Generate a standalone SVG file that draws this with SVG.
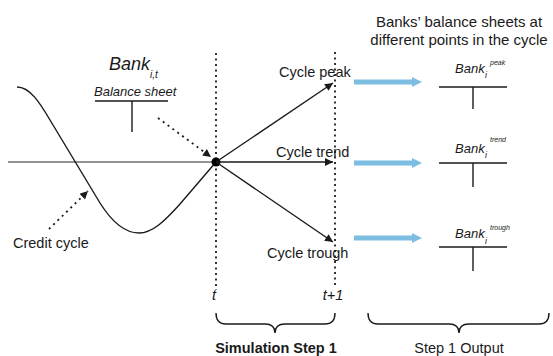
<svg xmlns="http://www.w3.org/2000/svg" width="553" height="356" viewBox="0 0 553 356">
<style>
text{font-family:"Liberation Sans",Arial,sans-serif;fill:#1a1a1a}
.lbl{font-size:14.5px}
.it{font-style:italic}
.ln{stroke:#1a1a1a;stroke-width:1.4;fill:none}
.dot{stroke:#333;stroke-width:2;stroke-dasharray:2 3.5;fill:none}
.darr{stroke:#1a1a1a;stroke-width:1.8;stroke-dasharray:2 4;fill:none}
.blue{stroke:#7dbde2;stroke-width:5;fill:none}
</style>
<defs>
<marker id="ah" viewBox="0 0 10 10" refX="10" refY="5" markerWidth="10" markerHeight="8" markerUnits="userSpaceOnUse" orient="auto"><path d="M0,0 L10,5 L0,10 z" fill="#1a1a1a"/></marker>
<marker id="bh" viewBox="0 0 10 10" refX="1" refY="5" markerWidth="10" markerHeight="12" markerUnits="userSpaceOnUse" orient="auto"><path d="M0,0 L10,5 L0,10 z" fill="#7dbde2"/></marker>
</defs>

<g id="axis">
<line x1="8" y1="162" x2="216" y2="162" stroke="#6e6e6e" stroke-width="1.4"/>
<line class="dot" x1="216" y1="53" x2="216" y2="290"/>
<line class="dot" x1="335" y1="52" x2="335" y2="285"/>
<text x="214" y="300" class="lbl it" text-anchor="middle">t</text>
<text x="333" y="300" class="lbl it" text-anchor="middle">t+1</text>
</g>

<g id="credit-cycle">
<path class="ln" d="M17,87 C30,87 40,103 50,120 L100,203 C112,222 125,233 139,233 C152,233 164,222 180,204 L216,162"/>
<text x="13" y="248" class="lbl">Credit cycle</text>
</g>

<g id="bank-it">
<text x="109" y="70" class="it" font-size="18">Bank</text>
<text x="150" y="78" class="it" font-size="10">i,t</text>
<text x="94" y="96" class="it" font-size="13">Balance sheet</text>
<line class="ln" x1="95" y1="101" x2="168" y2="101"/>
<line class="ln" x1="132" y1="101" x2="132" y2="132"/>
</g>

<g id="origin"><circle cx="216" cy="162" r="4.5" fill="#000"/></g>

<g id="cycle-peak"><text x="279" y="77" class="lbl">Cycle peak</text></g>
<g id="cycle-trend"><text x="276" y="157" class="lbl">Cycle trend</text></g>
<g id="cycle-trough"><text x="267" y="258" class="lbl">Cycle trough</text></g>

<g id="title">
<text x="459" y="27" font-size="15" text-anchor="middle">Banks’ balance sheets at</text>
<text x="459" y="45" font-size="15" text-anchor="middle">different points in the cycle</text>
</g>

<g id="bank-peak">
<text x="455" y="73" class="it" font-size="13">Bank</text>
<text x="485" y="78" class="it" font-size="9">i</text>
<text x="490" y="65" class="it" font-size="7">peak</text>
<line class="ln" x1="439" y1="87" x2="507" y2="87"/>
<line class="ln" x1="473" y1="87" x2="473" y2="109"/>
</g>
<g id="bank-trend">
<text x="455" y="153" class="it" font-size="13">Bank</text>
<text x="485" y="158" class="it" font-size="9">i</text>
<text x="490" y="142" class="it" font-size="7">trend</text>
<line class="ln" x1="439" y1="163" x2="507" y2="163"/>
<line class="ln" x1="473" y1="163" x2="473" y2="187"/>
</g>
<g id="bank-trough">
<text x="455" y="238" class="it" font-size="13">Bank</text>
<text x="485" y="244" class="it" font-size="9">i</text>
<text x="490" y="230" class="it" font-size="7">trough</text>
<line class="ln" x1="439" y1="247" x2="507" y2="247"/>
<line class="ln" x1="473" y1="247" x2="473" y2="271"/>
</g>

<g id="connectors">
<line class="ln" x1="216" y1="162" x2="333" y2="83" marker-end="url(#ah)"/>
<line class="ln" x1="216" y1="162" x2="333" y2="162" marker-end="url(#ah)"/>
<line class="ln" x1="216" y1="162" x2="333" y2="242" marker-end="url(#ah)"/>
<line class="darr" x1="158" y1="118" x2="211" y2="157" marker-end="url(#ah)"/>
<line class="darr" x1="49" y1="229" x2="88" y2="191" marker-end="url(#ah)"/>
<line class="blue" x1="354" y1="82" x2="413" y2="82" marker-end="url(#bh)"/>
<line class="blue" x1="354" y1="163" x2="413" y2="163" marker-end="url(#bh)"/>
<line class="blue" x1="354" y1="238" x2="413" y2="238" marker-end="url(#bh)"/>
</g>

<g id="brace-sim">
<path class="ln" d="M216,313 Q216,324 226,324 L265,324 Q275,324 275,333 Q275,324 285,324 L325,324 Q335,324 335,313"/>
<text x="276" y="353" font-size="14.5" font-weight="bold" text-anchor="middle">Simulation Step 1</text>
</g>
<g id="brace-out">
<path class="ln" d="M368,313 Q368,324 378,324 L449,324 Q459,324 459,333 Q459,324 469,324 L539,324 Q549,324 549,313"/>
<text x="459" y="353" class="lbl" text-anchor="middle">Step 1 Output</text>
</g>
</svg>
